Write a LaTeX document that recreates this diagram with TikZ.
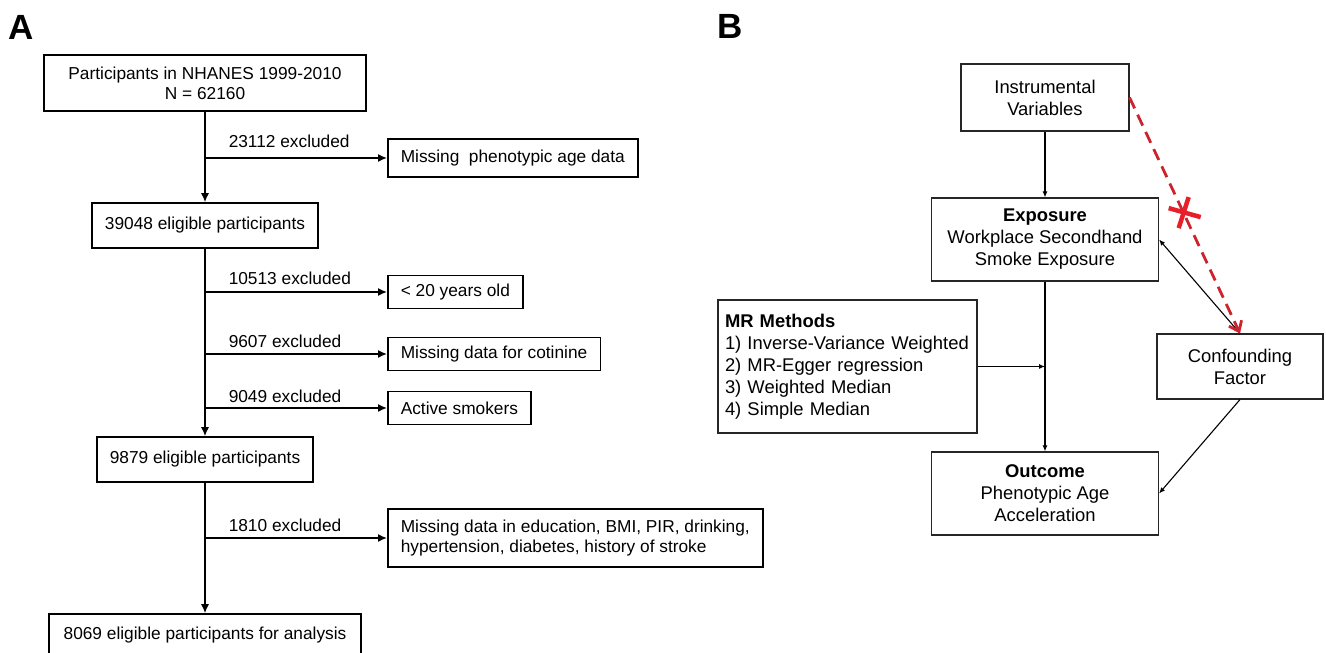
\documentclass[tikz,border=0pt]{standalone}
\usepackage{fontspec}
\setmainfont{Liberation Sans}
\usepackage{tikz}
\usetikzlibrary{arrows.meta,positioning}

\definecolor{cutred}{RGB}{205,35,45}
\definecolor{xred}{RGB}{232,30,40}

\begin{document}
\begin{tikzpicture}[
  x=1pt, y=1pt,
  fA/.style={font=\fontsize{17.3}{20}\selectfont},
  fB/.style={font=\fontsize{18.4}{22}\selectfont},
  boxA/.style={draw, line width=1.5pt, fA, align=center, inner xsep=13pt, inner ysep=2pt},
  boxB/.style={draw=black!85, line width=1.1pt, fB, align=center, inner sep=2pt},
  lbl/.style={fA, inner sep=0pt, anchor=base west, xshift=23pt},
  arrA/.style={-{Latex[length=9pt,width=8pt]}, line width=1.5pt},
  arrB/.style={-{Latex[length=6pt,width=5pt]}, line width=1.1pt},
  cutarr/.style={-{Straight Barb[length=9pt,width=14pt]}, cutred, line width=2.8pt, dash pattern=on 12pt off 7pt},
  xmark/.style={xred, line width=4.5pt},
  panel/.style={font=\fontsize{35}{35}\selectfont\bfseries, inner sep=0pt, anchor=base west}
]
\useasboundingbox (0,0) rectangle (1326,653);

% panel A: selection flow
\node[panel] (la) at (8,613) {A};
\node[boxA, minimum width=322pt, minimum height=56pt] (p0) at (205,570) {Participants in NHANES 1999-2010\\N = 62160};
\node[boxA, minimum width=221pt, minimum height=45pt] (p1) at (205,427.5) {39048 eligible participants};
\node[boxA, minimum width=214pt, minimum height=45pt] (p2) at (205,193.5) {9879 eligible participants};
\node[boxA, minimum width=312pt, minimum height=42pt] (p3) at (205,18) {8069 eligible participants for analysis};

\node[boxA, anchor=west, minimum height=38pt] (e0) at (387,495) {Missing\ \ phenotypic age data};
\node[boxA, anchor=west, minimum height=33pt] (e1) at (387,361) {< 20 years old};
\node[boxA, anchor=west, minimum height=33pt] (e2) at (387,299) {Missing data for cotinine};
\node[boxA, anchor=west, minimum height=33pt] (e3) at (387,245) {Active smokers};
\node[boxA, anchor=west, align=left, minimum height=58pt] (e4) at (387,115) {Missing data in education, BMI, PIR, drinking,\\hypertension, diabetes, history of stroke};

\draw[arrA] (p0) -- (p1);
\draw[arrA] (p1) -- (p2);
\draw[arrA] (p2) -- (p3);

\draw[arrA] (p0.south |- e0.west) node[lbl, yshift=10pt] (n0) {23112 excluded} -- (e0.west);
\draw[arrA] (p1.south |- e1.west) node[lbl, yshift=7pt] (n1) {10513 excluded} -- (e1.west);
\draw[arrA] (p1.south |- e2.west) node[lbl, yshift=6pt] (n2) {9607 excluded} -- (e2.west);
\draw[arrA] (p1.south |- e3.west) node[lbl, yshift=5pt] (n3) {9049 excluded} -- (e3.west);
\draw[arrA] (p2.south |- e4.west) node[lbl, yshift=6pt] (n4) {1810 excluded} -- (e4.west);

% panel B: MR design
\node[panel] (lb) at (717,614) {B};
\node[boxB, minimum width=168pt, minimum height=67pt] (iv) at (1045,555.5) {Instrumental\\Variables};
\node[boxB, minimum width=227pt, minimum height=83pt] (expo) at (1045,413.5) {\textbf{Exposure}\\Workplace Secondhand\\Smoke Exposure};
\node[boxB, minimum width=227pt, minimum height=83pt] (outc) at (1045,159.5) {\textbf{Outcome}\\Phenotypic Age\\Acceleration};
\node[boxB, minimum width=166pt, minimum height=65pt] (conf) at (1240,286.5) {Confounding\\Factor};
\node[boxB, text width=245pt, align=left, inner xsep=7pt, minimum height=133pt] (mr) at (847.5,286.5) {\textbf{MR Methods}\\1) Inverse-Variance Weighted\\2) MR-Egger regression\\3) Weighted Median\\4) Simple Median};

\draw[arrB] (iv) -- (expo);
\draw[arrB] (expo) -- (outc);
\coordinate (mrhit) at (expo.south |- mr.east);
\draw[arrB] (mr.east) -- (mrhit);
\draw[arrB] (conf.north) -- (expo.east);
\draw[arrB] (conf.south) -- (outc.east);
\draw[cutarr] (iv.east) -- coordinate[pos=0.49] (cut) (conf.north);
\draw[xmark, shift={(cut)}] (-15,5) -- (17,-4) (5,16) -- (-5,-15);
\end{tikzpicture}
\end{document}
